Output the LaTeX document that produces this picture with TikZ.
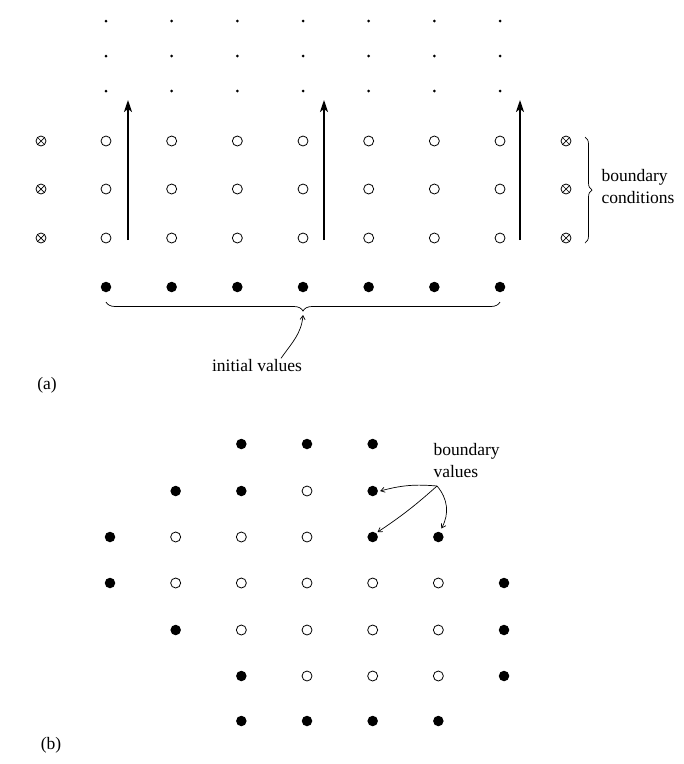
\documentclass[tikz,border=0pt]{standalone}
\usepackage{fontspec}
\setmainfont{Liberation Serif}
\usetikzlibrary{decorations.pathreplacing,arrows.meta}

\begin{document}
\begin{tikzpicture}[x=1pt,y=1pt,font=\fontsize{17.5}{22}\selectfont,
		open/.style={circle,draw,line width=0.8pt,inner sep=0pt,minimum size=10pt},
		full/.style={circle,fill=black,inner sep=0pt,minimum size=10.5pt},
		tiny/.style={circle,fill=black,inner sep=0pt,minimum size=3pt},
		bnd/.style={open,path picture={\draw[line width=0.7pt] (path picture bounding box.north west) -- (path picture bounding box.south east) (path picture bounding box.north east) -- (path picture bounding box.south west);}},
		up/.style={line width=1.5pt,-{Stealth[length=12pt,width=8pt,inset=3pt]}},
		lbl/.style={-{Straight Barb[length=4pt,width=5pt]},line width=0.7pt}]
	\useasboundingbox (0,0) rectangle (684,-764);
	% (a) grid
	\foreach \c in {1,...,7} {
		\foreach \y [count=\r] in {21,56,91} {
			\node[tiny] (d-\r-\c) at ({106+65.67*(\c-1)},-\y) {};
		};
		\foreach \y [count=\r] in {141,189,238} {
			\node[open] (o-\r-\c) at ({106+65.67*(\c-1)},-\y) {};
		};
		\node[full] (f-\c) at ({106+65.67*(\c-1)},-287) {};
	};
	\foreach \y [count=\r] in {141,189,238} {
		\node[bnd] (xl-\r) at (41,-\y) {};
		\node[bnd] (xr-\r) at (566,-\y) {};
	};
	% marching arrows
	\foreach \x [count=\i] in {128,324,520} {
		\coordinate (s-\i) at (\x,-240);
		\coordinate (e-\i) at (\x,-100);
		\draw[up] (s-\i) -- (e-\i);
	};
	% braces
	\draw[line width=0.7pt,decorate,decoration={brace,mirror,amplitude=9pt}] (106,-302) -- (500,-302);
	\coordinate (tip) at (303,-315);
	\node (iv) at (257,-366) {initial values};
	\draw[lbl] ([xshift=24pt,yshift=-2pt]iv.north) to[out=55,in=-95] (tip);
	\draw[line width=0.7pt,decorate,decoration={brace,amplitude=7pt}] (585,-137) -- (585,-243);
	\node[anchor=west,align=left] (bc) at (598,-187) {boundary\\conditions};
	\node (la) at (47,-385) {(a)};
	% (b) grid: 0 none, 1 boundary, 2 interior
	\foreach \y/\pat [count=\r] in {444/{0,0,1,1,1,0,0},491/{0,1,1,2,1,0,0},537/{1,2,2,2,1,1,0},583/{1,2,2,2,2,2,1},630/{0,1,2,2,2,2,1},676/{0,0,1,2,2,2,1},721/{0,0,1,1,1,1,0}} {
		\foreach \t [count=\c] in \pat {
			\ifnum\t=1 \node[full] (b-\r-\c) at ({110+65.67*(\c-1)},-\y) {}; \fi
			\ifnum\t=2 \node[open] (b-\r-\c) at ({110+65.67*(\c-1)},-\y) {}; \fi
		};
	};
	\node[anchor=north west,align=left] (bv) at (430,-440) {boundary\\values};
	\coordinate (bv-o) at (437,-486);
	\draw[lbl] (bv-o) to[bend right=10] ([xshift=2pt]b-2-5.east);
	\draw[lbl] (bv-o) to[bend left=4] ([shift={(1pt,1pt)}]b-3-5.north east);
	\draw[lbl] (bv-o) to[bend left=35] ([shift={(3pt,3pt)}]b-3-6.north);
	\node (lb) at (51,-745) {(b)};
\end{tikzpicture}
\end{document}
